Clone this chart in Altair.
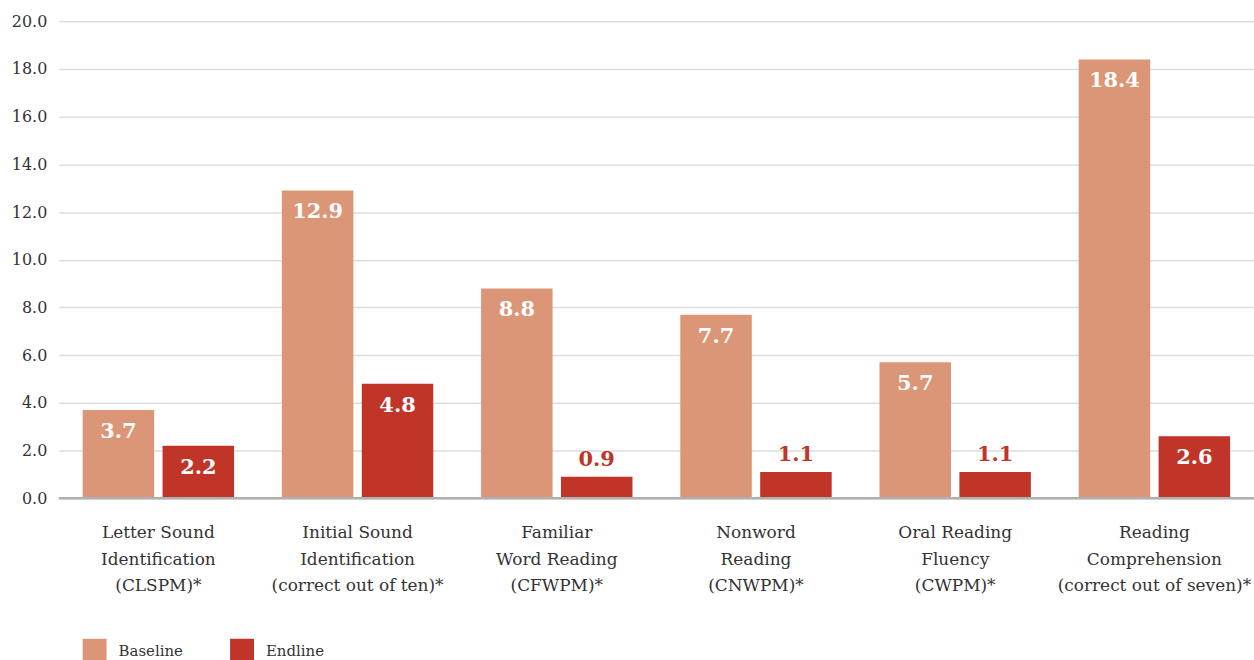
import altair as alt
import pandas as pd

categories = [
    "Letter Sound|Identification|(CLSPM)*",
    "Initial Sound|Identification|(correct out of ten)*",
    "Familiar|Word Reading|(CFWPM)*",
    "Nonword|Reading|(CNWPM)*",
    "Oral Reading|Fluency|(CWPM)*",
    "Reading|Comprehension|(correct out of seven)*",
]
series = ["Baseline", "Endline"]
baseline = [3.7, 12.9, 8.8, 7.7, 5.7, 18.4]
endline = [2.2, 4.8, 0.9, 1.1, 1.1, 2.6]
colors = ["#DB9577", "#C13428"]

rows = []
for cat, b, e in zip(categories, baseline, endline):
    rows.append({"category": cat, "series": series[0], "value": b})
    rows.append({"category": cat, "series": series[1], "value": e})
df = pd.DataFrame(rows)

SERIF = "Roboto Slab, DejaVu Serif"

x_enc = alt.X(
    "category:N",
    sort=categories,
    title=None,
    scale=alt.Scale(paddingInner=0.24, paddingOuter=0.12),
    axis=alt.Axis(
        labelExpr="split(datum.label, '|')",
        labelAngle=0,
        labelFont=SERIF,
        labelFontSize=17,
        labelColor="#333333",
        labelLineHeight=27,
        labelPadding=26,
        labelBaseline="top",
        ticks=False,
        domain=False,
        grid=False,
        labelLimit=300,
    ),
)
xoff = alt.XOffset(
    "series:N", sort=series, scale=alt.Scale(paddingInner=0.105, paddingOuter=0)
)
y_enc = alt.Y(
    "value:Q",
    title=None,
    scale=alt.Scale(domain=[0, 20], nice=False),
    axis=alt.Axis(
        values=[0, 2, 4, 6, 8, 10, 12, 14, 16, 18, 20],
        format=".1f",
        labelFont=SERIF,
        labelFontSize=16,
        labelColor="#333333",
        labelPadding=12,
        ticks=False,
        domain=False,
        gridColor="#dddddd",
        gridWidth=1.5,
    ),
)

base = alt.Chart(df).encode(x=x_enc, xOffset=xoff, y=y_enc)

bars = base.mark_bar().encode(
    color=alt.Color(
        "series:N",
        sort=series,
        scale=alt.Scale(domain=series, range=colors),
        legend=alt.Legend(
            title=None,
            orient="none",
            legendX=24,
            legendY=620,
            direction="horizontal",
            symbolType="square",
            symbolSize=576,
            symbolStrokeWidth=0,
            labelFont=SERIF,
            labelFontSize=15,
            labelColor="#333333",
            labelOffset=12,
            columnPadding=47,
        ),
    )
)

# baseline at zero, drawn over the bars' feet
zero_rule = alt.Chart(pd.DataFrame({"value": [0]})).mark_rule(
    color="#b0b0b0", strokeWidth=2.5
).encode(y=y_enc)

inside = base.transform_filter("datum.value >= 1.5").mark_text(
    font=SERIF, fontSize=21, fontWeight="bold", color="white", dy=22
).encode(text=alt.Text("value:Q", format=".1f"))

above = base.transform_filter("datum.value < 1.5").mark_text(
    font=SERIF, fontSize=21, fontWeight="bold", color=colors[1], dy=-17
).encode(text=alt.Text("value:Q", format=".1f"))

chart = (
    alt.layer(bars, zero_rule, inside, above)
    .properties(
        width=1200,
        height=479,
        background="white",
        autosize=alt.AutoSizeParams(type="none"),
        padding={"left": 59, "top": 20, "right": 0, "bottom": 161},
    )
    .configure_view(strokeWidth=0)
    .configure_axis(domain=False)
)

chart.save("out.html", embed_options={"renderer": "svg", "actions": False})
